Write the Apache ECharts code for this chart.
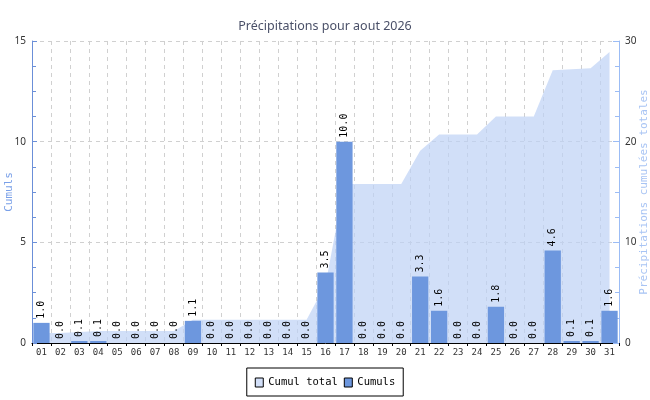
<!DOCTYPE html>
<html>
<head>
<meta charset="utf-8">
<script src="https://cdn.jsdelivr.net/npm/echarts@6/dist/echarts.min.js"></script>
<style>html,body{margin:0;padding:0;background:#fff}#c{width:650px;height:400px}</style>
</head>
<body>
<div id="c"></div>
<script>
var days = ['01','02','03','04','05','06','07','08','09','10','11','12','13','14','15','16','17','18','19','20','21','22','23','24','25','26','27','28','29','30','31'];
var cumuls = [1.0,0.0,0.1,0.1,0.0,0.0,0.0,0.0,1.1,0.0,0.0,0.0,0.0,0.0,0.0,3.5,10.0,0.0,0.0,0.0,3.3,1.6,0.0,0.0,1.8,0.0,0.0,4.6,0.1,0.1,1.6];
var cumulTotal = [1.0,1.0,1.1,1.2,1.2,1.2,1.2,1.2,2.3,2.3,2.3,2.3,2.3,2.3,2.3,5.8,15.8,15.8,15.8,15.8,19.1,20.7,20.7,20.7,22.5,22.5,22.5,27.1,27.2,27.3,28.9];
var leftTicks = [0,5,10,15];
var rightTicks = [0,10,20,30];

var mono = 'DejaVu Sans Mono';
var chart = echarts.init(document.getElementById('c'));
chart.setOption({
  animation: false,
  backgroundColor: '#fff',
  title: {
    text: 'Précipitations pour aout 2026',
    left: 'center', top: 15,
    textStyle: {fontFamily: 'Noto Sans', fontSize: 12.5, fontWeight: 'normal', color: '#4a5068'}
  },
  legend: {
    bottom: 4, left: 'center',
    borderColor: '#000', borderWidth: 1, borderRadius: 0,
    padding: [9, 8, 8, 8],
    itemWidth: 8, itemHeight: 9, itemGap: 6,
    textStyle: {fontFamily: mono, fontSize: 10.5, color: '#000'},
    data: [
      {name: 'Cumul total', icon: 'rect', itemStyle: {color: '#d2dff8', borderColor: '#000', borderWidth: 1}},
      {name: 'Cumuls', icon: 'rect', itemStyle: {color: '#6d97de', borderColor: '#000', borderWidth: 1}}
    ]
  },
  grid: {left: 32, right: 31, top: 41, bottom: 57, containLabel: false, outerBoundsMode: 'none'},
  xAxis: {
    type: 'category', data: days, boundaryGap: true,
    axisLine: {lineStyle: {color: '#000', width: 1}},
    axisTick: {show: true, length: 3, lineStyle: {color: '#000'}},
    axisLabel: {fontFamily: mono, fontSize: 9, color: '#333', margin: 5, interval: 0},
    splitLine: {show: true, interval: 0, lineStyle: {color: '#d0d0d0', type: [4, 4]}}
  },
  yAxis: [
    {
      type: 'value', min: 0, max: 15, interval: 5, position: 'left',
      name: 'Cumuls', nameLocation: 'middle', nameGap: 17.5, nameRotate: 90, nameMoveOverlap: false,
      nameTextStyle: {fontFamily: mono, fontSize: 11, color: '#7aa0e8'},
      axisLine: {show: true, lineStyle: {color: '#6b8fd8', width: 1}},
      axisTick: {show: true, inside: true, length: 5, lineStyle: {color: '#6b8fd8'}},
      minorTick: {show: true, splitNumber: 4, length: 4, lineStyle: {color: '#6b8fd8'}},
      axisLabel: {fontFamily: 'Noto Sans', fontSize: 10, color: '#333', margin: 6,
        formatter: function (v) { return leftTicks.indexOf(v) >= 0 ? String(v) : ''; }},
      splitLine: {show: true, lineStyle: {color: '#d0d0d0', type: [4, 4]}}
    },
    {
      type: 'value', min: 0, max: 30, interval: 10, position: 'right',
      name: 'Précipitations cumulées totales', nameLocation: 'middle', nameGap: 20, nameRotate: 90, nameMoveOverlap: false,
      nameTextStyle: {fontFamily: mono, fontSize: 11, color: '#a8c4f4'},
      axisLine: {show: true, lineStyle: {color: '#9bbcf5', width: 1}},
      axisTick: {show: true, inside: true, length: 6, lineStyle: {color: '#9bbcf5'}},
      minorTick: {show: true, splitNumber: 4, length: 4, lineStyle: {color: '#9bbcf5'}},
      axisLabel: {fontFamily: 'Noto Sans', fontSize: 10, color: '#333', margin: 6,
        formatter: function (v) { return rightTicks.indexOf(v) >= 0 ? String(v) : ''; }},
      splitLine: {show: false}
    }
  ],
  series: [
    {
      name: 'Cumul total', type: 'line', yAxisIndex: 1, data: cumulTotal,
      symbol: 'none', z: 1,
      lineStyle: {width: 0, color: '#d2dff8'},
      itemStyle: {color: '#d2dff8'},
      areaStyle: {color: 'rgba(190,210,245,0.7)', opacity: 1}
    },
    {
      name: 'Cumuls', type: 'bar', yAxisIndex: 0, data: cumuls, z: 3,
      barCategoryGap: '14%',
      itemStyle: {color: '#6d97de', opacity: 1},
      label: {
        show: true, position: 'top', rotate: 90, align: 'left', verticalAlign: 'middle',
        distance: 4, fontFamily: mono, fontSize: 10, color: '#000',
        formatter: function (p) { return p.value.toFixed(1); }
      }
    }
  ]
});
</script>
</body>
</html>
